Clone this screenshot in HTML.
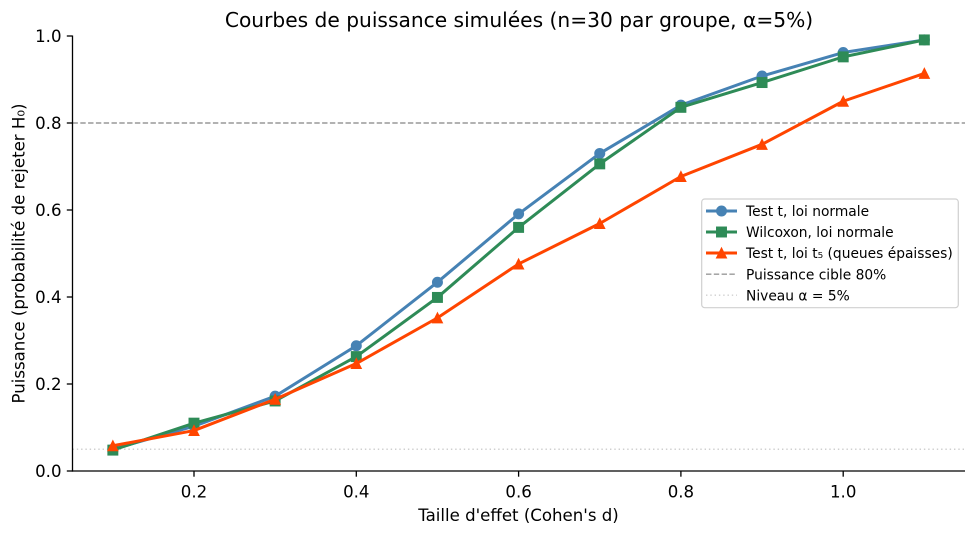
<!DOCTYPE html>
<html>
<head>
<meta charset="utf-8">
<style>
  html, body { margin:0; padding:0; background:#fff; }
  body { width:975px; height:535px; overflow:hidden; }
  svg { display:block; font-family:"DejaVu Sans","Liberation Sans",sans-serif; }
</style>
</head>
<body>
<svg width="975" height="535" viewBox="0 0 975 535" xmlns="http://www.w3.org/2000/svg">
  <rect x="0" y="0" width="975" height="535" fill="#ffffff"/>

  <!-- reference lines -->
  <line x1="72.5" y1="123" x2="965" y2="123" stroke="#999999" stroke-width="1.4" stroke-dasharray="5.4,2.4"/>
  <line x1="72.5" y1="449.25" x2="965" y2="449.25" stroke="#cfcfcf" stroke-width="1.4" stroke-dasharray="1.4,2.9"/>

  <!-- Blue: Test t, loi normale -->
  <polyline fill="none" stroke="#4682b4" stroke-width="3" stroke-linejoin="round" stroke-linecap="square"
    points="112.85,449.25 194,426.2 275.15,396.18 356.3,345.72 437.45,282.21 518.6,213.92 599.75,153.45 680.9,105.17 762.05,76.02 843.2,52.53 924.35,39.92"/>
  <g fill="#4682b4" stroke="#4682b4" stroke-width="1.2">
    <circle cx="112.85" cy="449.25" r="4.9"/>
    <circle cx="194" cy="426.2" r="4.9"/>
    <circle cx="275.15" cy="396.18" r="4.9"/>
    <circle cx="356.3" cy="345.72" r="4.9"/>
    <circle cx="437.45" cy="282.21" r="4.9"/>
    <circle cx="518.6" cy="213.92" r="4.9"/>
    <circle cx="599.75" cy="153.45" r="4.9"/>
    <circle cx="680.9" cy="105.17" r="4.9"/>
    <circle cx="762.05" cy="76.02" r="4.9"/>
    <circle cx="843.2" cy="52.53" r="4.9"/>
    <circle cx="924.35" cy="39.92" r="4.9"/>
  </g>

  <!-- Green: Wilcoxon -->
  <polyline fill="none" stroke="#2e8b57" stroke-width="3" stroke-linejoin="round" stroke-linecap="square"
    points="112.85,450.12 194,423.15 275.15,400.97 356.3,356.6 437.45,297.44 518.6,227.4 599.75,163.89 680.9,107.34 762.05,82.55 843.2,56.88 924.35,39.92"/>
  <g fill="#2e8b57" stroke="#2e8b57" stroke-width="1.2">
    <rect x="107.97" y="445.24" width="9.75" height="9.75"/>
    <rect x="189.12" y="418.27" width="9.75" height="9.75"/>
    <rect x="270.27" y="396.09" width="9.75" height="9.75"/>
    <rect x="351.42" y="351.72" width="9.75" height="9.75"/>
    <rect x="432.57" y="292.56" width="9.75" height="9.75"/>
    <rect x="513.72" y="222.52" width="9.75" height="9.75"/>
    <rect x="594.87" y="159.01" width="9.75" height="9.75"/>
    <rect x="676.02" y="102.46" width="9.75" height="9.75"/>
    <rect x="757.17" y="77.67" width="9.75" height="9.75"/>
    <rect x="838.32" y="52" width="9.75" height="9.75"/>
    <rect x="919.47" y="35.04" width="9.75" height="9.75"/>
  </g>

  <!-- Orange: Test t, loi t5 -->
  <polyline fill="none" stroke="#ff4500" stroke-width="3" stroke-linejoin="round" stroke-linecap="square"
    points="112.85,445.77 194,430.55 275.15,399.23 356.3,363.55 437.45,317.88 518.6,263.94 599.75,223.49 680.9,176.51 762.05,144.32 843.2,101.25 924.35,73.41"/>
  <g fill="#ff4500" stroke="#ff4500" stroke-width="1.2" stroke-linejoin="miter">
    <polygon points="112.85,440.9 107.95,450.67 117.75,450.67"/>
    <polygon points="194,425.65 189.1,435.45 198.9,435.45"/>
    <polygon points="275.15,394.33 270.25,404.13 280.05,404.13"/>
    <polygon points="356.3,358.65 351.4,368.45 361.2,368.45"/>
    <polygon points="437.45,312.98 432.55,322.78 442.35,322.78"/>
    <polygon points="518.6,259.04 513.7,268.84 523.5,268.84"/>
    <polygon points="599.75,218.59 594.85,228.39 604.65,228.39"/>
    <polygon points="680.9,171.61 676,181.41 685.8,181.41"/>
    <polygon points="762.05,139.42 757.15,149.22 766.95,149.22"/>
    <polygon points="843.2,96.35 838.3,106.15 848.1,106.15"/>
    <polygon points="924.35,68.51 919.45,78.31 929.25,78.31"/>
  </g>

  <!-- spines -->
  <line x1="72.5" y1="35.5" x2="72.5" y2="471.6" stroke="#000" stroke-width="1.3"/>
  <line x1="71.9" y1="471" x2="965" y2="471" stroke="#000" stroke-width="1.3"/>

  <!-- y ticks -->
  <g stroke="#000" stroke-width="1.3">
    <line x1="66.8" y1="471" x2="72.5" y2="471"/>
    <line x1="66.8" y1="384" x2="72.5" y2="384"/>
    <line x1="66.8" y1="297" x2="72.5" y2="297"/>
    <line x1="66.8" y1="210" x2="72.5" y2="210"/>
    <line x1="66.8" y1="123" x2="72.5" y2="123"/>
    <line x1="66.8" y1="36" x2="72.5" y2="36"/>
  </g>
  <g font-size="16.6" fill="#000" text-anchor="end">
    <text x="61.5" y="477">0.0</text>
    <text x="61.5" y="390">0.2</text>
    <text x="61.5" y="303">0.4</text>
    <text x="61.5" y="216">0.6</text>
    <text x="61.5" y="129">0.8</text>
    <text x="61.5" y="42">1.0</text>
  </g>

  <!-- x ticks -->
  <g stroke="#000" stroke-width="1.3">
    <line x1="194" y1="471" x2="194" y2="476.7"/>
    <line x1="356.3" y1="471" x2="356.3" y2="476.7"/>
    <line x1="518.6" y1="471" x2="518.6" y2="476.7"/>
    <line x1="680.9" y1="471" x2="680.9" y2="476.7"/>
    <line x1="843.2" y1="471" x2="843.2" y2="476.7"/>
  </g>
  <g font-size="16.6" fill="#000" text-anchor="middle">
    <text x="194" y="497.3">0.2</text>
    <text x="356.3" y="497.3">0.4</text>
    <text x="518.6" y="497.3">0.6</text>
    <text x="680.9" y="497.3">0.8</text>
    <text x="843.2" y="497.3">1.0</text>
  </g>

  <!-- labels & title -->
  <text x="518.5" y="521" font-size="16.6" text-anchor="middle" fill="#000">Taille d'effet (Cohen's d)</text>
  <text transform="translate(24.5,253.5) rotate(-90)" font-size="16.6" text-anchor="middle" fill="#000">Puissance (probabilité de rejeter H₀)</text>
  <text x="519" y="27" font-size="20.2" text-anchor="middle" fill="#000">Courbes de puissance simulées (n=30 par groupe, α=5%)</text>

  <!-- legend -->
  <rect x="701.7" y="199" width="256.6" height="108.7" rx="3" ry="3" fill="#ffffff" fill-opacity="0.8" stroke="#d0d0d0" stroke-width="1.2"/>
  <g>
    <line x1="706" y1="211" x2="737" y2="211" stroke="#4682b4" stroke-width="3"/>
    <circle cx="721.5" cy="211" r="4.9" fill="#4682b4" stroke="#4682b4" stroke-width="1.2"/>
    <line x1="706" y1="232" x2="737" y2="232" stroke="#2e8b57" stroke-width="3"/>
    <rect x="716.62" y="227.12" width="9.75" height="9.75" fill="#2e8b57" stroke="#2e8b57" stroke-width="1.2"/>
    <line x1="706" y1="253" x2="737" y2="253" stroke="#ff4500" stroke-width="3"/>
    <polygon points="721.5,248.1 716.6,257.9 726.4,257.9" fill="#ff4500" stroke="#ff4500" stroke-width="1.2"/>
    <line x1="706" y1="274.2" x2="737" y2="274.2" stroke="#999999" stroke-width="1.4" stroke-dasharray="5.4,2.4"/>
    <line x1="706" y1="295.2" x2="737" y2="295.2" stroke="#cfcfcf" stroke-width="1.4" stroke-dasharray="1.4,2.9"/>
  </g>
  <g font-size="13.8" fill="#000">
    <text x="746" y="216">Test t, loi normale</text>
    <text x="746" y="237.1">Wilcoxon, loi normale</text>
    <text x="746" y="258.2">Test t, loi t₅ (queues épaisses)</text>
    <text x="746" y="279.3">Puissance cible 80%</text>
    <text x="746" y="300.3">Niveau α = 5%</text>
  </g>
</svg>
</body>
</html>
